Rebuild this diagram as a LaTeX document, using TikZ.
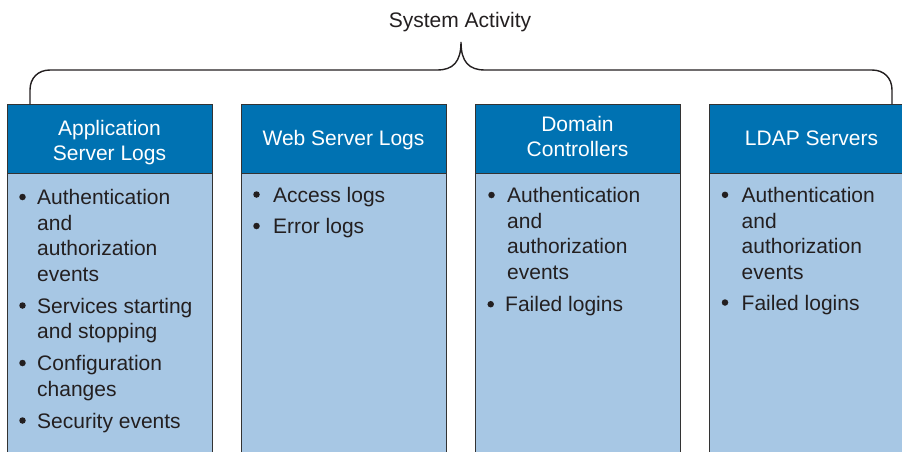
\documentclass[tikz,border=0pt]{standalone}
\usepackage{fontspec}
\setmainfont{Liberation Sans}
\usetikzlibrary{calc}
\definecolor{hdrblue}{HTML}{0072B2}
\definecolor{bodyblue}{HTML}{A7C7E4}
\definecolor{edgegray}{HTML}{333333}
\definecolor{ink}{HTML}{231F20}
\tikzset{
  hdrbox/.style={draw=edgegray, line width=1pt, fill=hdrblue, minimum width=205pt, minimum height=69pt, inner sep=0pt, outer sep=0pt},
  panelbox/.style={draw=edgegray, line width=1pt, fill=bodyblue, minimum width=205pt, minimum height=300pt, inner sep=0pt, outer sep=0pt},
  hdrtxt/.style={anchor=north, inner sep=0pt, align=center, text=white, font=\fontsize{21}{25}\selectfont},
  itemtxt/.style={anchor=north west, inner sep=0pt, align=left, text=ink, font=\fontsize{21}{25.5}\selectfont},
  bul/.style={circle, fill=ink, inner sep=0pt, minimum size=6.5pt},
  titletxt/.style={anchor=base, inner sep=0pt, text=ink, font=\fontsize{21}{25}\selectfont},
  bracepath/.style={draw=ink, line width=1.4pt}
}
\begin{document}
\begin{tikzpicture}[x=1pt,y=-1pt]
\useasboundingbox (0,0) rectangle (902,451);
\clip (0,0) rectangle (902,451);

% panels (bodies)
\node[panelbox] (p1) at (109.5,323) {};
\node[panelbox] (p2) at (343.5,323) {};
\node[panelbox] (p3) at (577.5,323) {};
\node[panelbox] (p4) at (811.5,323) {};

% headers
\node[hdrbox] (h1) at (109.5,138.5) {};
\node[hdrbox] (h2) at (343.5,138.5) {};
\node[hdrbox] (h3) at (577.5,138.5) {};
\node[hdrbox] (h4) at (811.5,138.5) {};

\node[hdrtxt] (t1) at (109.5,117.5) {\strut Application\\Server Logs};
\node[hdrtxt] (t2) at (343.5,128.2) {\strut Web Server Logs};
\node[hdrtxt] (t3) at (577.5,114.2) {\strut Domain\\Controllers};
\node[hdrtxt] (t4) at (811.5,127.5) {\strut LDAP Servers};

% title and brace
\node[titletxt] (title) at (460,27) {System Activity};
\coordinate (bL) at ($(h1.north west)+(23,0)$);
\coordinate (bR) at ($(h4.north west)+(183,0)$);
\coordinate (tip) at (461,42);
\draw[bracepath] (bL) -- (30,90) .. controls (30,78) and (38,70) .. (50,70)
  -- (437,70) .. controls (453,70) and (461,62) .. (tip)
  .. controls (461,62) and (469,70) .. (485,70)
  -- (872,70) .. controls (884,70) and (892,78) .. (892,90) -- (bR);

% column 1
\node[bul] (b11) at (22.5,197) {};
\node[itemtxt] (i11) at (37,186.65) {\strut Authentication\\and\\authorization\\events};
\node[bul] (b12) at (22.5,305.5) {};
\node[itemtxt] (i12) at (37,295.15) {\strut Services starting\\and stopping};
\node[bul] (b13) at (22.5,363) {};
\node[itemtxt] (i13) at (37,352.65) {\strut Configuration\\changes};
\node[bul] (b14) at (22.5,420.5) {};
\node[itemtxt] (i14) at (37,410.15) {\strut Security events};

% column 2
\node[bul] (b21) at (256.5,194.5) {};
\node[itemtxt] (i21) at (273,184.15) {\strut Access logs};
\node[bul] (b22) at (256.5,226) {};
\node[itemtxt] (i22) at (273,215.65) {\strut Error logs};

% column 3
\node[bul] (b31) at (491.5,195) {};
\node[itemtxt] (i31) at (507,184.65) {\strut Authentication\\and\\authorization\\events};
\node[bul] (b32) at (490.7,304.2) {};
\node[itemtxt] (i32) at (505,293.85) {\strut Failed logins};

% column 4
\node[bul] (b41) at (725,194.8) {};
\node[itemtxt] (i41) at (741.5,184.45) {\strut Authentication\\and\\authorization\\events};
\node[bul] (b42) at (725,302.5) {};
\node[itemtxt] (i42) at (741.5,292.15) {\strut Failed logins};
\end{tikzpicture}
\end{document}
